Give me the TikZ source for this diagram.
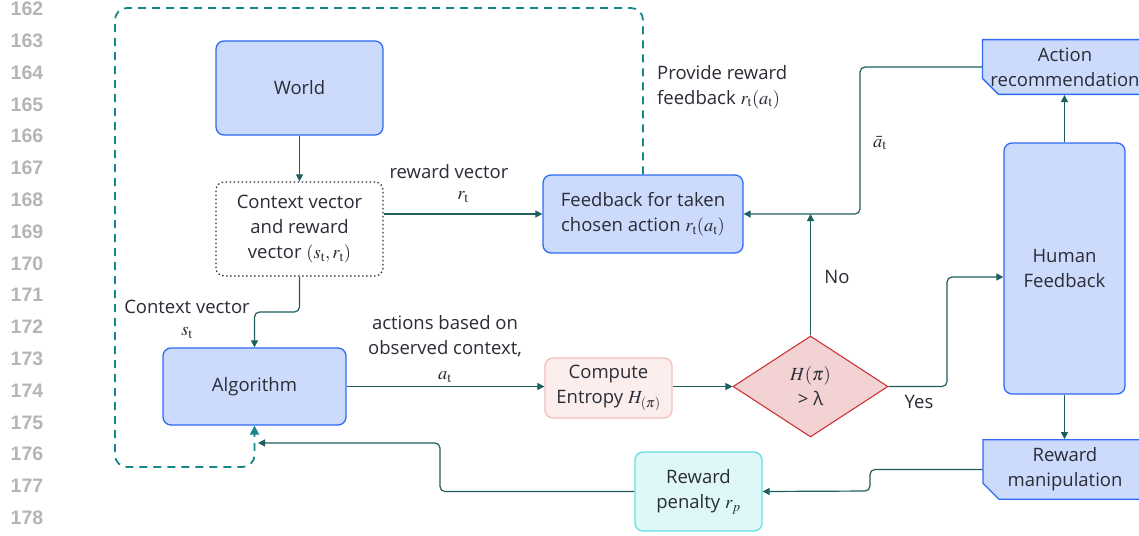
\documentclass[tikz,border=0pt]{standalone}
\usepackage{mathptmx}
\usepackage[no-math]{fontspec}
\setmainfont{Open Sans}
\newfontfamily\numfont{Liberation Sans}
\usetikzlibrary{arrows.meta,shapes.geometric,shapes.misc,calc}
\definecolor{txt}{HTML}{2A2C36}
\definecolor{lnum}{HTML}{B5B5B5}
\definecolor{conn}{HTML}{1E5E5E}
\definecolor{dashc}{HTML}{17888A}
\definecolor{bluefill}{HTML}{CCDAFC}
\definecolor{blueedge}{HTML}{2F6AF5}
\definecolor{pinkfill}{HTML}{FDEEEE}
\definecolor{pinkedge}{HTML}{F7BDBD}
\definecolor{diafill}{HTML}{F2D2D2}
\definecolor{diaedge}{HTML}{D03434}
\definecolor{cyanfill}{HTML}{DEF8FA}
\definecolor{cyanedge}{HTML}{66DDE3}
\newcommand{\tsub}{\mathrm{t}}
\tikzset{
  base/.style={font=\fontsize{18.5}{25}\selectfont, text=txt, align=center, inner sep=0pt},
  bluebox/.style={base, draw=blueedge, fill=bluefill, line width=1.3pt, rounded corners=8pt},
  dotbox/.style={base, draw=txt, dash pattern=on 1.5pt off 2.5pt, line width=1.2pt, rounded corners=8pt},
  pinkbox/.style={base, draw=pinkedge, fill=pinkfill, line width=1.3pt, rounded corners=8pt},
  cyanbox/.style={base, draw=cyanedge, fill=cyanfill, line width=1.3pt, rounded corners=8pt},
  chambox/.style={base, draw=blueedge, fill=bluefill, line width=1.3pt, chamfered rectangle,
     chamfered rectangle corners=south west, chamfered rectangle xsep=8pt, chamfered rectangle ysep=8pt},
  decision/.style={base, diamond, draw=diaedge, fill=diafill, line width=1.1pt},
  lbl/.style={base},
  conn/.style={draw=conn, line width=1.2pt, -{Triangle[length=7pt,width=7pt]}, rounded corners=5pt},
  loop/.style={draw=dashc, line width=1.8pt, dash pattern=on 8pt off 6pt, rounded corners=12pt,
     -{Triangle[length=9pt,width=9pt]}},
  lnumstyle/.style={font=\numfont\bfseries\fontsize{19.5}{20}\selectfont, text=lnum, inner sep=0pt}
}
\begin{document}
\begin{tikzpicture}[x=1pt,y=-1pt]
\clip (0,0) rectangle (1139,535);
\fill[white] (0,0) rectangle (1139,535);
% line numbers
\foreach \n [count=\i from 0] in {162,...,178}{
  \node[lnumstyle] (ln\n) at (27,{9+31.8*\i}) {\n};
}
% nodes
\node[bluebox, minimum width=167pt, minimum height=94pt] (world) at (299.5,88) {World};
\node[dotbox, minimum width=167pt, minimum height=94pt] (ctx) at (299.5,229) {Context vector\\and reward\\vector $(s_{\tsub},r_{\tsub})$};
\node[bluebox, minimum width=200pt, minimum height=78pt] (fb) at (643,214) {Feedback for taken\\chosen action $r_{\tsub}(a_{\tsub})$};
\node[bluebox, minimum width=183pt, minimum height=77pt] (alg) at (254.5,386.5) {Algorithm};
\node[pinkbox, minimum width=127pt, minimum height=60pt] (ent) at (608.5,388) {Compute\\Entropy $H_{(\pi)}$};
\node[decision, minimum width=155pt, minimum height=101pt] (dia) at (810.5,386.5) {$H(\pi)$\\> λ};
\node[bluebox, minimum width=121pt, minimum height=251pt] (hf) at (1064.5,268.5) {Human\\Feedback};
\node[chambox, minimum width=164pt, minimum height=54pt] (ar) at (1065,67) {Action\\recommendation};
\node[chambox, minimum width=164pt, minimum height=55pt] (rm) at (1065,469.5) {Reward\\manipulation};
\node[cyanbox, minimum width=127pt, minimum height=79pt] (rp) at (698.5,491.5) {Reward\\penalty $r_p$};
% coordinates
\coordinate (loopTL) at (115,8);
\coordinate (loopBL) at (115,467);
\coordinate (c1) at (299.5,312);
\coordinate (c2) at (860,214);
\coordinate (c3) at (947,277);
\coordinate (c4) at (870,491);
\coordinate (c5) at (440,443);
\coordinate (algin) at (258,443);
% connectors
\draw[loop] (fb.north) |- (loopTL) -- (loopBL) -| (alg.south);
\draw[conn] (world.south) -- (ctx.north);
\draw[conn] (ctx.east |- fb.west) -- (fb.west);
\draw[conn] (ctx.south) -- (c1) -| (alg.north);
\draw[conn] (alg.east) -- (alg.east -| ent.west);
\draw[conn] (ent.east |- dia.west) -- (dia.west);
\draw[conn] (dia.north) -- (dia.north |- fb.east);
\draw[conn] (ar.west) -| (c2) -- (fb.east);
\draw[conn] (dia.east) -| (c3) -- (c3 -| hf.west);
\draw[conn] (hf.north) -- (hf.north |- ar.south);
\draw[conn] (hf.south) -- (hf.south |- rm.north);
\draw[conn] (rm.west) -| (c4) -- (rp.east);
\draw[conn] (rp.west) -| (c5) -- (algin);
% labels
\node[lbl] (lrv) at (449,172) {reward vector};
\node[lbl] (lrt) at (463,197) {$r_{\tsub}$};
\node[lbl, align=left, anchor=west] (lprov) at (657,87) {Provide reward\\feedback $r_{\tsub}(a_{\tsub})$};
\node[lbl] (labar) at (880,143) {$\bar{a}_{\tsub}$};
\node[lbl] (lno) at (837,277) {No};
\node[lbl] (lyes) at (919,402) {Yes};
\node[lbl] (lcv) at (187,307) {Context vector};
\node[lbl] (lst) at (187,333) {$s_{\tsub}$};
\node[lbl] (lact) at (445,349) {actions based on\\observed context,\\$a_{\tsub}$};
\end{tikzpicture}
\end{document}
